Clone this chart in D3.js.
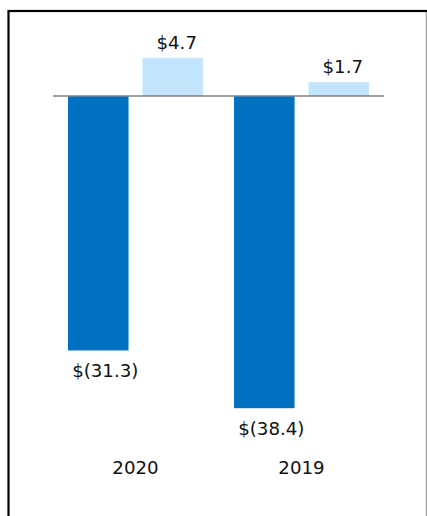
<!DOCTYPE html>
<html><head><meta charset="utf-8">
<script src="https://cdn.jsdelivr.net/npm/d3@7/dist/d3.min.js"></script>
<style>html,body{margin:0;padding:0;background:#fff;overflow:hidden}</style>
</head><body>
<script>
const years = ["2020", "2019"];
const series = ["loss", "gain"];
const lossValues = [-31.3, -38.4];
const gainValues = [4.7, 1.7];
const lossLabels = ["$(31.3)", "$(38.4)"];
const gainLabels = ["$4.7", "$1.7"];
const colors = {loss: "#0070c0", gain: "#c2e4fc"};

const W = 427, H = 516;
const svg = d3.select("body").append("svg").attr("width", W).attr("height", H);

// frame
svg.append("rect").attr("x", 8.5).attr("y", 11).attr("width", 430).attr("height", 520)
  .attr("fill", "none").attr("stroke", "#000").attr("stroke-width", 2.2);
svg.append("line").attr("x1", 426.3).attr("x2", 426.3).attr("y1", 12).attr("y2", H)
  .attr("stroke", "#888").attr("stroke-width", 1);

const x0 = d3.scaleBand().domain(years).range([68, 369]).paddingInner(0.187).paddingOuter(0);
const x1 = d3.scaleBand().domain(series).range([0, x0.bandwidth()]).paddingInner(0.187).paddingOuter(0);
const y = d3.scaleLinear().domain([0, -38.4]).range([96, 408.2]);

const data = years.map((yr, i) => ({year: yr, loss: lossValues[i], gain: gainValues[i], lossLabel: lossLabels[i], gainLabel: gainLabels[i]}));

const g = svg.append("g");
data.forEach(d => {
  series.forEach(s => {
    const v = d[s];
    g.append("rect")
      .attr("x", x0(d.year) + x1(s))
      .attr("width", x1.bandwidth())
      .attr("y", Math.min(y(v), y(0)))
      .attr("height", Math.abs(y(v) - y(0)))
      .attr("fill", colors[s]);
  });
});

// baseline
svg.append("line").attr("x1", 53).attr("x2", 384).attr("y1", y(0)).attr("y2", y(0))
  .attr("stroke", "#808080").attr("stroke-width", 1.5);

const font = "DejaVu Sans, sans-serif";
const fs = 18.2;
data.forEach(d => {
  svg.append("text")
    .attr("x", x0(d.year) + x1("gain") + x1.bandwidth() / 2 + 4)
    .attr("y", y(d.gain) - 9)
    .attr("text-anchor", "middle").attr("font-family", font).attr("font-size", fs).attr("fill", "#111")
    .text(d.gainLabel);
  svg.append("text")
    .attr("x", x0(d.year) + x1("loss") + x1.bandwidth() / 2 + 7)
    .attr("y", y(d.loss) + 26.5)
    .attr("text-anchor", "middle").attr("font-family", font).attr("font-size", fs).attr("fill", "#111")
    .text(d.lossLabel);
  svg.append("text")
    .attr("x", x0(d.year) + x0.bandwidth() / 2)
    .attr("y", 474)
    .attr("text-anchor", "middle").attr("font-family", font).attr("font-size", fs).attr("fill", "#111")
    .text(d.year);
});
</script>
</body></html>
